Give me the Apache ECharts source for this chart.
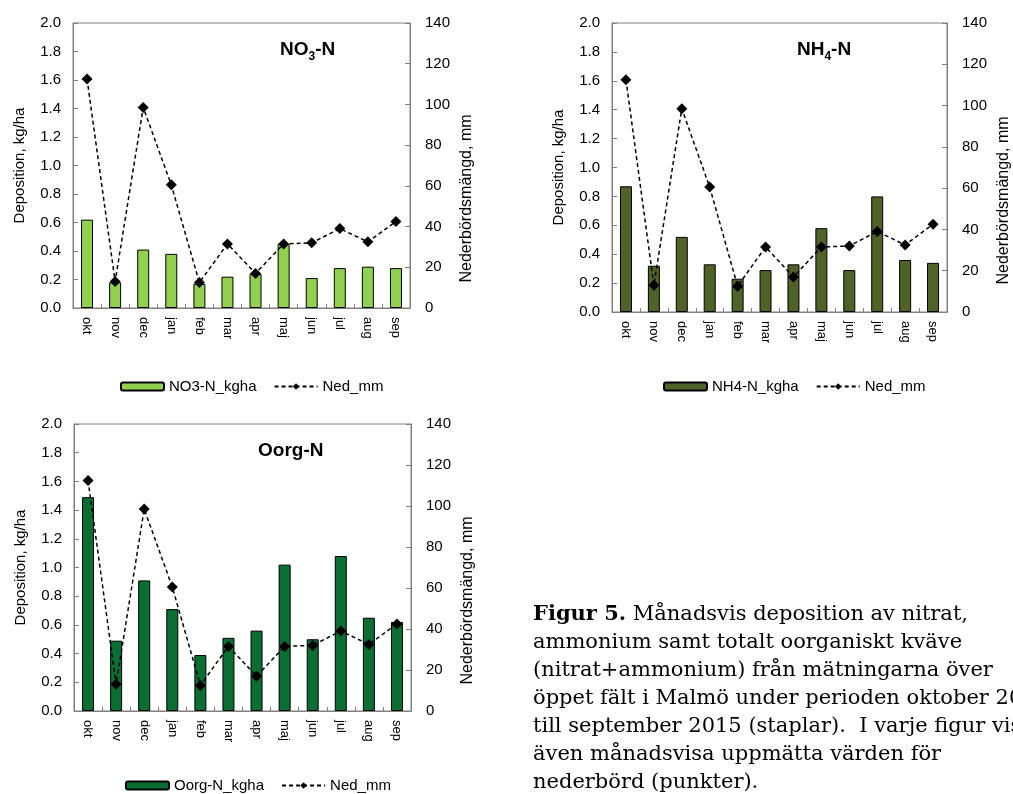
<!DOCTYPE html>
<html>
<head>
<meta charset="utf-8">
<script src="https://cdn.jsdelivr.net/npm/echarts@6/dist/echarts.min.js"></script>
<style>
  html, body { margin: 0; padding: 0; background: #fff; }
  #main { width: 1013px; height: 794px; }
</style>
</head>
<body>
<div id="main"></div>
<script>
// månader (okt 2014 - sep 2015)
var months = ["okt", "nov", "dec", "jan", "feb", "mar", "apr", "maj", "jun", "jul", "aug", "sep"];
// deposition kg/ha
var no3 = [0.62, 0.18, 0.41, 0.38, 0.17, 0.22, 0.24, 0.45, 0.21, 0.28, 0.29, 0.28];
var nh4 = [0.87, 0.32, 0.52, 0.33, 0.23, 0.29, 0.33, 0.58, 0.29, 0.80, 0.36, 0.34];
var oorg = [1.49, 0.49, 0.91, 0.71, 0.39, 0.51, 0.56, 1.02, 0.50, 1.08, 0.65, 0.62];
// nederbörd mm
var ned = [112.5, 13, 98.5, 60.5, 12.5, 31.5, 17, 31.5, 32, 39, 32.5, 42.5];

var axisGray = "#808080";
var labelFont = "Liberation Sans, Arial, sans-serif";

var chart = echarts.init(document.getElementById("main"));

// en panel per ämne
var panels = [
  { name: "NO3-N_kgha", data: no3, color: "#92D050", grid: { left: 73, top: 23, width: 337, height: 285 },
    title: "{a|NO}{s|3}{a|-N}", titlePos: [280, 37], legendPos: [120, 379] },
  { name: "NH4-N_kgha", data: nh4, color: "#4F6228", grid: { left: 612, top: 23, width: 336, height: 289 },
    title: "{a|NH}{s|4}{a|-N}", titlePos: [797, 37], legendPos: [663, 379] },
  { name: "Oorg-N_kgha", data: oorg, color: "#0B6E33", grid: { left: 74, top: 424, width: 337, height: 287 },
    title: "{a|Oorg-N}", titlePos: [258, 438], legendPos: [125, 778] }
];

var grids = [], xAxes = [], yAxes = [], series = [], titles = [], legends = [];

panels.forEach(function (p, i) {
  grids.push(Object.assign({ show: true, borderColor: axisGray, borderWidth: 1, containLabel: false }, p.grid));
  xAxes.push({
    type: "category",
    gridIndex: i,
    data: months,
    boundaryGap: true,
    axisLine: { lineStyle: { color: axisGray, width: 1 } },
    axisTick: { show: true, inside: true, length: 4, lineStyle: { color: axisGray } },
    axisLabel: { rotate: -90, fontSize: 13, color: "#000", fontFamily: labelFont, margin: 9 },
    splitLine: { show: false }
  });
  yAxes.push({
    type: "value",
    gridIndex: i,
    position: "left",
    min: 0,
    max: 2,
    interval: 0.2,
    name: "Deposition, kg/ha",
    nameLocation: "middle",
    nameRotate: 90,
    nameGap: 46,
    nameTextStyle: { fontSize: 15, color: "#000", fontFamily: labelFont },
    axisLine: { show: true, lineStyle: { color: axisGray } },
    axisTick: { show: true, inside: true, length: 5, lineStyle: { color: axisGray } },
    axisLabel: { fontSize: 15, color: "#000", fontFamily: labelFont, margin: 12,
      formatter: function (v) { return v.toFixed(1); } },
    splitLine: { show: false }
  });
  yAxes.push({
    type: "value",
    gridIndex: i,
    position: "right",
    min: 0,
    max: 140,
    interval: 20,
    name: "Nederbördsmängd, mm",
    nameLocation: "middle",
    nameRotate: 90,
    nameGap: 49,
    nameTextStyle: { fontSize: 16, color: "#000", fontFamily: labelFont, padding: [0, 66, 0, 0] },
    axisLine: { show: true, lineStyle: { color: axisGray } },
    axisTick: { show: true, inside: true, length: 5, lineStyle: { color: axisGray } },
    axisLabel: { fontSize: 15, color: "#000", fontFamily: labelFont, margin: 15 },
    splitLine: { show: false }
  });
  series.push({
    name: p.name,
    type: "bar",
    xAxisIndex: i,
    yAxisIndex: i * 2,
    data: p.data,
    barWidth: 12,
    itemStyle: { color: p.color, borderColor: "#000", borderWidth: 1 },
    z: 2
  });
  series.push({
    name: "Ned_mm",
    type: "line",
    xAxisIndex: i,
    yAxisIndex: i * 2 + 1,
    data: ned,
    symbol: "diamond",
    symbolSize: 11,
    itemStyle: { color: "#000" },
    lineStyle: { color: "#000", width: 1.5, type: [4, 3] },
    z: 3
  });
  titles.push({
    text: p.title,
    left: p.titlePos[0],
    top: p.titlePos[1],
    padding: 0,
    textStyle: {
      rich: {
        a: { fontSize: 19, fontWeight: "bold", color: "#000", fontFamily: labelFont, lineHeight: 22, verticalAlign: "bottom" },
        s: { fontSize: 12, fontWeight: "bold", color: "#000", fontFamily: labelFont, lineHeight: 14, verticalAlign: "bottom", padding: [0, 0, -4, 0] }
      }
    }
  });
  legends.push({
    data: [p.name, "Ned_mm"],
    left: p.legendPos[0],
    top: p.legendPos[1],
    padding: 0,
    itemWidth: 43,
    itemHeight: 8,
    itemGap: 17,
    textStyle: { fontSize: 15, color: "#000", fontFamily: labelFont },
    selectedMode: false
  });
});

// figurtext, en rad per element
var caption = [
  "{b|Figur 5.} Månadsvis deposition av nitrat,",
  "ammonium samt totalt oorganiskt kväve",
  "(nitrat+ammonium) från mätningarna över",
  "öppet fält i Malmö under perioden oktober 2014",
  "till september 2015 (staplar).  I varje figur visas",
  "även månadsvisa uppmätta värden för",
  "nederbörd (punkter)."
];

var captionGraphics = caption.map(function (line, i) {
  return {
    type: "text",
    left: 533,
    top: 604 + i * 28,
    style: {
      text: line,
      font: '21px "DejaVu Serif"',
      fill: "#000",
      rich: {
        b: { font: 'bold 21px "DejaVu Serif"', fill: "#000" }
      }
    }
  };
});

var option = {
  animation: false,
  backgroundColor: "#fff",
  title: titles,
  legend: legends,
  grid: grids,
  xAxis: xAxes,
  yAxis: yAxes,
  series: series,
  graphic: captionGraphics
};

chart.setOption(option);
</script>
</body>
</html>
